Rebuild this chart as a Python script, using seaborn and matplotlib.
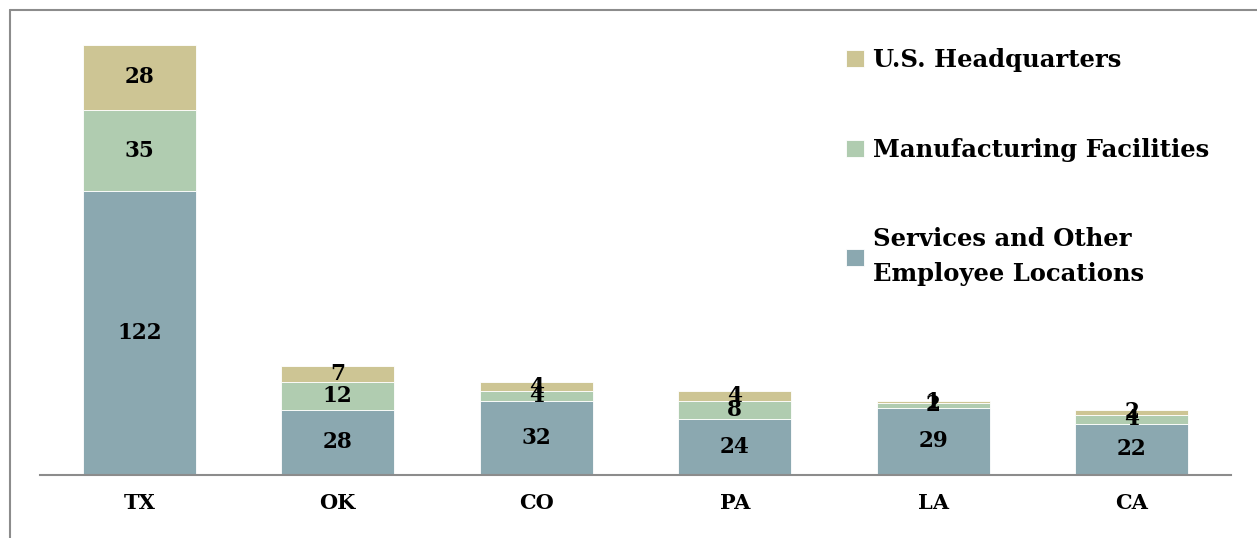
import matplotlib
matplotlib.use('Agg')
import matplotlib.pyplot as plt
from matplotlib.lines import Line2D
import pandas as pd
import seaborn as sns

sns.set_theme(style='white')
plt.rcParams['font.family'] = ['DejaVu Serif']
plt.rcParams['text.color'] = 'black'
plt.rcParams['xtick.color'] = 'black'

states = ['TX', 'OK', 'CO', 'PA', 'LA', 'CA']
services = [122, 28, 32, 24, 29, 22]
manufacturing = [35, 12, 4, 8, 2, 4]
hq = [28, 7, 4, 4, 1, 2]

series_names = ['Services and Other\nEmployee Locations', 'Manufacturing Facilities', 'U.S. Headquarters']
series_vals = [services, manufacturing, hq]
colors = ['#8ba8b0', '#b0ccb0', '#cdc594']

fig = plt.figure(figsize=(12.57, 5.38), dpi=100)
ax = fig.add_axes([40 / 1257, 63 / 538, 1191 / 1257, 465 / 538])

bottom = [0] * len(states)
for name, vals, col in zip(series_names, series_vals, colors):
    df = pd.DataFrame({'state': states, 'value': vals})
    sns.barplot(data=df, x='state', y='value', color=col, width=0.57, saturation=1,
                bottom=bottom, edgecolor='white', linewidth=0.6, ax=ax, label=name)
    bottom = [b + v for b, v in zip(bottom, vals)]

for cont in ax.containers:
    ax.bar_label(cont, label_type='center', fontsize=15.5, fontweight='bold', color='black')

ax.set_ylim(0, 200)
ax.set_xlim(-0.5, 5.5)
ax.set_xlabel('')
ax.set_ylabel('')
ax.set_yticks([])
ax.tick_params(axis='x', length=0, pad=13, labelsize=15)
for lbl in ax.get_xticklabels():
    lbl.set_fontweight('bold')
for s in ['top', 'right', 'left']:
    ax.spines[s].set_visible(False)
ax.spines['bottom'].set_color('#8c8c8c')
ax.spines['bottom'].set_linewidth(1.5)

handles, labels = ax.get_legend_handles_labels()
if ax.get_legend() is not None:
    ax.get_legend().remove()
leg = fig.legend(handles[::-1], labels[::-1], loc='upper left',
                 bbox_to_anchor=(834 / 1257, 1 - 36 / 538),
                 frameon=False, prop={'weight': 'bold', 'size': 17.5}, borderpad=0,
                 handlelength=0.72, handleheight=0.72, handletextpad=0.4, labelspacing=2.7)
leg.get_texts()[2].set_linespacing(1.55)

# outer chart frame (left and top edges visible)
fig.add_artist(Line2D([10 / 1257, 10 / 1257], [0, 1 - 10 / 538], color='#8c8c8c', lw=1.5))
fig.add_artist(Line2D([10 / 1257, 1], [1 - 10 / 538, 1 - 10 / 538], color='#8c8c8c', lw=1.5))

fig.savefig('out.png', dpi=100)
